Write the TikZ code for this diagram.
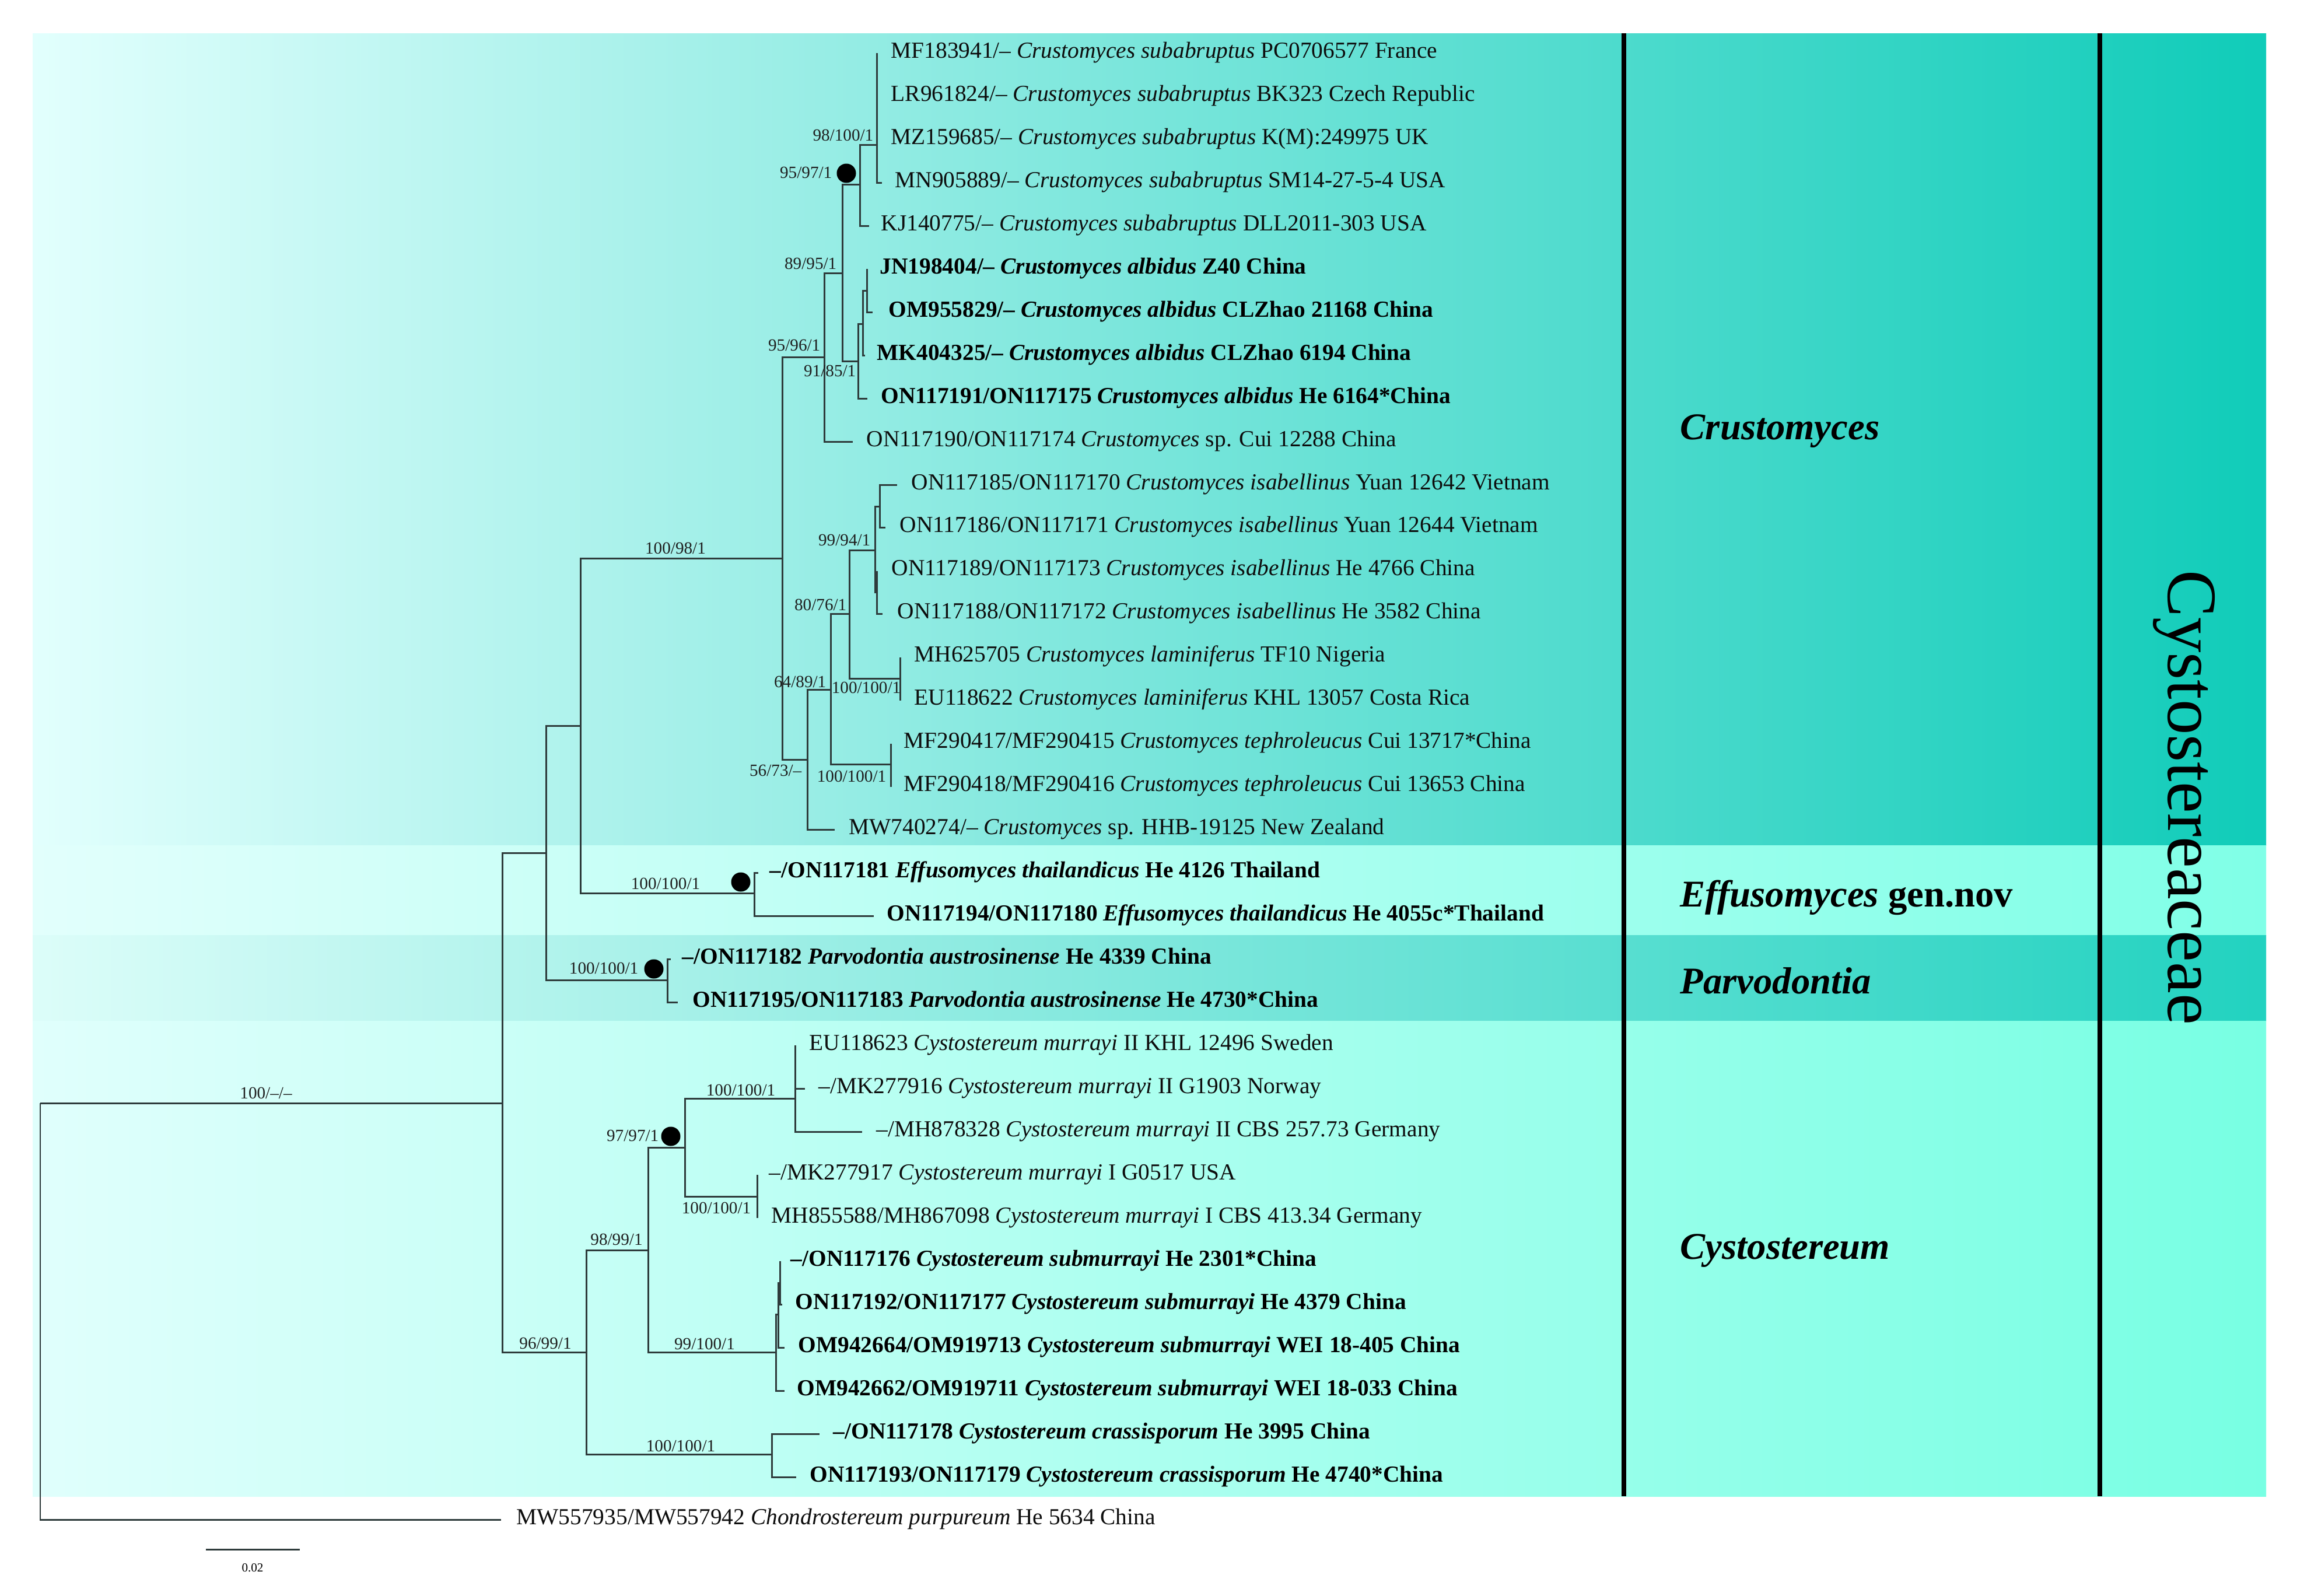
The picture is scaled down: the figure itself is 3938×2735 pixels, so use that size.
\documentclass[tikz,border=0pt]{standalone}
\usepackage{fontspec}
\setmainfont{Liberation Serif}
\newcommand\tipfont{\fontsize{11.2}{13}\selectfont}
\newcommand\supfont{\fontsize{8.3}{10}\selectfont}
\newcommand\cladefont{\fontsize{18.4}{22}\selectfont\bfseries\itshape}
\definecolor{crL}{HTML}{E2FFFD}
\definecolor{crR}{HTML}{10CCB9}
\definecolor{efL}{HTML}{E2FFFC}
\definecolor{efR}{HTML}{80FFE7}
\definecolor{pvL}{HTML}{DCFDF9}
\definecolor{pvR}{HTML}{22D2C0}
\definecolor{cyL}{HTML}{E0FFFC}
\definecolor{cyR}{HTML}{78FFE3}
\definecolor{treecol}{HTML}{2E3B3B}
\begin{document}
\begin{tikzpicture}[x=0.01cm,y=-0.01cm,
  br/.style={line width=0.85pt, draw=treecol},
  tip/.style={anchor=mid west, inner sep=0pt, font=\tipfont, text=black!95},
  tipb/.style={anchor=mid west, inner sep=0pt, font=\tipfont\bfseries, text=black},
  supl/.style={inner sep=0pt, font=\supfont, text=black!88},
  supr/.style={supl, anchor=mid east},
  supc/.style={supl, anchor=mid},
  bdot/.style={circle, fill=black, inner sep=0pt, minimum size=0.33cm},
  clade/.style={anchor=mid west, inner sep=0pt, font=\cladefont},
  sepline/.style={line width=2.3pt, draw=black}]
\useasboundingbox (0,0) rectangle (3938,2735);
% backgrounds
\shade[left color=crL, right color=crR] (56,57) rectangle (3885,1449);
\shade[left color=efL, right color=efR] (56,1449) rectangle (3885,1603);
\shade[left color=pvL, right color=pvR] (56,1603) rectangle (3885,1750);
\shade[left color=cyL, right color=cyR] (56,1750) rectangle (3885,2565);
% separator lines
\coordinate (v1a) at (2784,57); \coordinate (v1b) at (2784,2565);
\coordinate (v2a) at (3600,57); \coordinate (v2b) at (3600,2565);
\draw[sepline] (v1a) -- (v1b);
\draw[sepline] (v2a) -- (v2b);
% internal nodes
\coordinate (R0) at (69,1891);
\coordinate (X) at (861,1891);
\coordinate (A) at (936,1462);
\coordinate (B) at (995,1244);
\coordinate (Ef) at (1293,1531);
\coordinate (Pv) at (1144,1680);
\coordinate (C0) at (1341,957);
\coordinate (C1) at (1413,612);
\coordinate (C3) at (1444,468);
\coordinate (C4) at (1474,316);
\coordinate (C5) at (1503,248);
\coordinate (D) at (1471,619);
\coordinate (E) at (1479,555);
\coordinate (F) at (1486,498);
\coordinate (N) at (1384,1302);
\coordinate (M) at (1424,1182);
\coordinate (L) at (1456,1052);
\coordinate (I1) at (1500,943);
\coordinate (I2) at (1508,868);
\coordinate (I3) at (1503,1015);
\coordinate (Lm) at (1543,1163);
\coordinate (Tp) at (1527,1310);
\coordinate (P) at (1005,2318);
\coordinate (Q) at (1111,2143);
\coordinate (R) at (1174,1967);
\coordinate (T) at (1363,1883);
\coordinate (U) at (1298,2051);
\coordinate (S) at (1330,2318);
\coordinate (S1) at (1334,2253);
\coordinate (S2) at (1337,2199);
\coordinate (V) at (1323,2493);
% leaf ends
\coordinate (l1) at (1503,91);
\coordinate (l2) at (1503,165);
\coordinate (l3) at (1503,239);
\coordinate (l4) at (1512,313);
\coordinate (l5) at (1490,387);
\coordinate (l6) at (1486,461);
\coordinate (l7) at (1496,535);
\coordinate (l8) at (1483,609);
\coordinate (l9) at (1487,683);
\coordinate (l10) at (1462,757);
\coordinate (l11) at (1538,831);
\coordinate (l12) at (1518,904.5);
\coordinate (l13) at (1503,978.5);
\coordinate (l14) at (1513,1052.5);
\coordinate (l15) at (1543,1126.5);
\coordinate (l16) at (1543,1200.5);
\coordinate (l17) at (1527,1274.5);
\coordinate (l18) at (1527,1348.5);
\coordinate (l19) at (1431,1422);
\coordinate (l20) at (1300,1496);
\coordinate (l21) at (1498,1570);
\coordinate (l22) at (1150,1644);
\coordinate (l23) at (1162,1718);
\coordinate (l24) at (1363,1792);
\coordinate (l25) at (1380,1866);
\coordinate (l26) at (1478,1940);
\coordinate (l27) at (1298,2014);
\coordinate (l28) at (1298,2088);
\coordinate (l29) at (1337,2162);
\coordinate (l30) at (1341,2236);
\coordinate (l31) at (1345,2310);
\coordinate (l32) at (1345,2384);
\coordinate (l33) at (1405,2458);
\coordinate (l34) at (1365,2532);
\coordinate (l35) at (859,2605);
% branches
\foreach \p/\c in {R0/X, R0/l35, X/A, X/P, A/B, A/Pv, B/C0, B/Ef, Ef/l20, Ef/l21,
  Pv/l22, Pv/l23, C0/C1, C0/N, C1/C3, C1/l10, C3/C4, C3/D, C4/C5, C4/l5,
  C5/l1, C5/l2, C5/l3, C5/l4, D/E, D/l9, E/F, E/l8, F/l6, F/l7, N/M, N/l19,
  M/L, M/Tp, L/I1, L/Lm, I1/I2, I1/I3, I2/l11, I2/l12, I3/l13, I3/l14,
  Lm/l15, Lm/l16, Tp/l17, Tp/l18, P/Q, P/V, Q/R, Q/S, R/T, R/U,
  T/l24, T/l25, T/l26, U/l27, U/l28, S/S1, S/l32, S1/S2, S1/l31,
  S2/l29, S2/l30, V/l33, V/l34}
  \draw[br] (\p) |- (\c);
% dots
\node[bdot] (d1) at (1451,297) {};
\node[bdot] (d2) at (1270,1512) {};
\node[bdot] (d3) at (1121,1661) {};
\node[bdot] (d4) at (1150,1948) {};
% support values
\node[supc] (s1) at (456,1875) {100/--/--};
\node[supc] (s2) at (935,2304) {96/99/1};
\node[supc] (s3) at (1158,941) {100/98/1};
\node[supc] (s4) at (1141,1516) {100/100/1};
\node[supr] (s5) at (1095,1661) {100/100/1};
\node[supr] (s6) at (1407,593) {95/96/1};
\node[supr] (s7) at (1375,1322) {56/73/--};
\node[supr] (s8) at (1435,453) {89/95/1};
\node[supr] (s9) at (1427,297) {95/97/1};
\node[supr] (s10) at (1468,637) {91/85/1};
\node[supr] (s11) at (1498,233) {98/100/1};
\node[supr] (s12) at (1417,1170) {64/89/1};
\node[supr] (s13) at (1452,1038) {80/76/1};
\node[supr] (s14) at (1493,927) {99/94/1};
\node[supc] (s15) at (1485,1180) {100/100/1};
\node[supc] (s16) at (1460,1332) {100/100/1};
\node[supc] (s17) at (1057,2126) {98/99/1};
\node[supc] (s18) at (1167,2480) {100/100/1};
\node[supr] (s19) at (1130,1948) {97/97/1};
\node[supc] (s20) at (1208,2305) {99/100/1};
\node[supc] (s21) at (1270,1870) {100/100/1};
\node[supc] (s22) at (1228,2072) {100/100/1};
% tip labels
\node[tip] (t1) at (1527,91) {MF183941/-- \textit{Crustomyces subabruptus} PC0706577 France};
\node[tip] (t2) at (1527,165) {LR961824/-- \textit{Crustomyces subabruptus} BK323 Czech Republic};
\node[tip] (t3) at (1527,239) {MZ159685/-- \textit{Crustomyces subabruptus} K(M):249975 UK};
\node[tip] (t4) at (1534,313) {MN905889/-- \textit{Crustomyces subabruptus} SM14-27-5-4 USA};
\node[tip] (t5) at (1510,387) {KJ140775/-- \textit{Crustomyces subabruptus} DLL2011-303 USA};
\node[tipb] (t6) at (1508,461) {JN198404/-- \textit{Crustomyces albidus} Z40 China};
\node[tipb] (t7) at (1523,535) {OM955829/-- \textit{Crustomyces albidus} CLZhao 21168 China};
\node[tipb] (t8) at (1503,609) {MK404325/-- \textit{Crustomyces albidus} CLZhao 6194 China};
\node[tipb] (t9) at (1510,683) {ON117191/ON117175 \textit{Crustomyces albidus} He 6164*China};
\node[tip] (t10) at (1485,757) {ON117190/ON117174 \textit{Crustomyces} sp. Cui 12288 China};
\node[tip] (t11) at (1562,831) {ON117185/ON117170 \textit{Crustomyces isabellinus} Yuan 12642 Vietnam};
\node[tip] (t12) at (1542,904.5) {ON117186/ON117171 \textit{Crustomyces isabellinus} Yuan 12644 Vietnam};
\node[tip] (t13) at (1528,978.5) {ON117189/ON117173 \textit{Crustomyces isabellinus} He 4766 China};
\node[tip] (t14) at (1538,1052.5) {ON117188/ON117172 \textit{Crustomyces isabellinus} He 3582 China};
\node[tip] (t15) at (1567,1126.5) {MH625705 \textit{Crustomyces laminiferus} TF10 Nigeria};
\node[tip] (t16) at (1567,1200.5) {EU118622 \textit{Crustomyces laminiferus} KHL 13057 Costa Rica};
\node[tip] (t17) at (1549,1274.5) {MF290417/MF290415 \textit{Crustomyces tephroleucus} Cui 13717*China};
\node[tip] (t18) at (1549,1348.5) {MF290418/MF290416 \textit{Crustomyces tephroleucus} Cui 13653 China};
\node[tip] (t19) at (1455,1422) {MW740274/-- \textit{Crustomyces} sp. HHB-19125 New Zealand};
\node[tipb] (t20) at (1319,1496) {--/ON117181 \textit{Effusomyces thailandicus} He 4126 Thailand};
\node[tipb] (t21) at (1520,1570) {ON117194/ON117180 \textit{Effusomyces thailandicus} He 4055c*Thailand};
\node[tipb] (t22) at (1169,1644) {--/ON117182 \textit{Parvodontia austrosinense} He 4339 China};
\node[tipb] (t23) at (1187,1718) {ON117195/ON117183 \textit{Parvodontia austrosinense} He 4730*China};
\node[tip] (t24) at (1387,1792) {EU118623 \textit{Cystostereum murrayi} II KHL 12496 Sweden};
\node[tip] (t25) at (1403,1866) {--/MK277916 \textit{Cystostereum murrayi} II G1903 Norway};
\node[tip] (t26) at (1502,1940) {--/MH878328 \textit{Cystostereum murrayi} II CBS 257.73 Germany};
\node[tip] (t27) at (1318,2014) {--/MK277917 \textit{Cystostereum murrayi} I G0517 USA};
\node[tip] (t28) at (1322,2088) {MH855588/MH867098 \textit{Cystostereum murrayi} I CBS 413.34 Germany};
\node[tipb] (t29) at (1355,2162) {--/ON117176 \textit{Cystostereum submurrayi} He 2301*China};
\node[tipb] (t30) at (1363,2236) {ON117192/ON117177 \textit{Cystostereum submurrayi} He 4379 China};
\node[tipb] (t31) at (1368,2310) {OM942664/OM919713 \textit{Cystostereum submurrayi} WEI 18-405 China};
\node[tipb] (t32) at (1366,2384) {OM942662/OM919711 \textit{Cystostereum submurrayi} WEI 18-033 China};
\node[tipb] (t33) at (1428,2458) {--/ON117178 \textit{Cystostereum crassisporum} He 3995 China};
\node[tipb] (t34) at (1388,2532) {ON117193/ON117179 \textit{Cystostereum crassisporum} He 4740*China};
\node[tip] (t35) at (885,2605) {MW557935/MW557942 \textit{Chondrostereum purpureum} He 5634 China};
% scale bar
\coordinate (sb1) at (353,2656);
\coordinate (sb2) at (514,2656);
\draw[br] (sb1) -- (sb2);
\node[inner sep=0pt, font=\fontsize{6}{7}\selectfont] (sbl) at (433,2688) {0.02};
% clade labels
\node[clade] (g1) at (2880,745) {Crustomyces};
\node[clade] (g2) at (2880,1546) {Effusomyces \upshape gen.nov};
\node[clade] (g3) at (2880,1695) {Parvodontia};
\node[clade] (g4) at (2880,2150) {Cystostereum};
\node[inner sep=0pt, rotate=-90, font=\fontsize{34.4}{40}\selectfont] (fam) at (3744,1367) {Cystostereaceae};
\end{tikzpicture}
\end{document}
